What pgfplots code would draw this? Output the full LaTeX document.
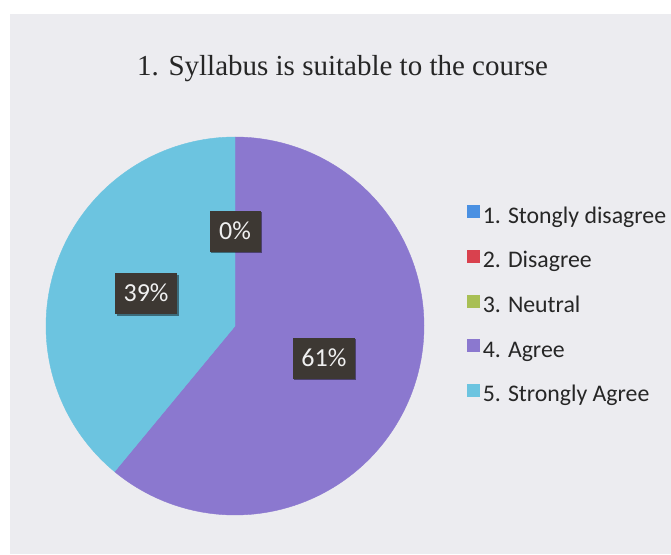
\documentclass[border=0pt]{standalone}
\usepackage{fontspec}
\setmainfont{Liberation Serif}
\newfontfamily\carlito{Carlito}
\usepackage{pgfplots}
\pgfplotsset{compat=1.18}
\usepackage{pgfplotstable}
\usetikzlibrary{shadows}

\definecolor{cBg}{HTML}{ECECF0}
\definecolor{cTitle}{HTML}{262626}
\definecolor{cOne}{HTML}{4A90E2}
\definecolor{cTwo}{HTML}{D9414E}
\definecolor{cThree}{HTML}{A8BF55}
\definecolor{cAgree}{HTML}{8B78CF}
\definecolor{cStrong}{HTML}{6CC4E0}
\definecolor{cLbl}{HTML}{3D3833}

\tikzset{labelbox/.style={fill=cLbl, text=white!94!black,
    font=\carlito\fontsize{26}{26}\selectfont,
    inner xsep=8pt, inner ysep=0pt, text height=16pt, text depth=0pt,
    minimum height=41pt,
    drop shadow={shadow xshift=1.5pt, shadow yshift=-1.5pt, opacity=0.45, fill=black}}}

% answers in percent, in legend order
\pgfplotstableread{
id pct
1 0
2 0
3 0
4 61
5 39
}\answers

\begin{document}
\begin{tikzpicture}
\pgfplotstablegetelem{3}{pct}\of\answers \let\pAgree\pgfplotsretval
\pgfplotstablegetelem{4}{pct}\of\answers \let\pStrong\pgfplotsretval
\pgfmathsetmacro\aEnd{90-3.6*\pAgree}
\pgfmathsetmacro\sEnd{\aEnd-3.6*\pStrong}
\pgfmathsetmacro\aMid{(90+\aEnd)/2}
\pgfmathsetmacro\sMid{(\aEnd+\sEnd)/2}

\fill[white] (0pt,0pt) rectangle (671pt,554pt);
\fill[cBg] (10pt,0pt) rectangle (671pt,540pt);

\node[anchor=base, text=cTitle, font=\fontsize{29}{29}\selectfont]
  at (342.5pt,478pt) {1. Syllabus is suitable to the course};

\begin{axis}[
  at={(235pt,228pt)}, anchor=center,
  scale only axis, width=378pt, height=378pt,
  xmin=-1, xmax=1, ymin=-1, ymax=1,
  hide axis, clip=false,
  legend image code/.code={\fill[#1, draw=none] (-1pt,-1pt) rectangle (12pt,12pt);},
  legend style={at={(1.106,0.8255)}, anchor=north west, draw=none, fill=none,
    font=\carlito\fontsize{23.8}{23.8}\selectfont, text=cTitle,
    nodes={inner sep=0pt, text height=17pt, text depth=5pt},
    row sep=21.7pt, column sep=2.5pt},
  legend cell align=left,
]
\addlegendimage{fill=cOne}
\addlegendentry{1. Stongly disagree}
\addlegendimage{fill=cTwo}
\addlegendentry{2. Disagree}
\addlegendimage{fill=cThree}
\addlegendentry{3. Neutral}
\addlegendimage{fill=cAgree}
\addlegendentry{4. Agree}
\addlegendimage{fill=cStrong}
\addlegendentry{5. Strongly Agree}

\addplot[forget plot, fill=cAgree, draw=cAgree, domain=\aEnd:90, samples=150]
  ({cos(x)},{sin(x)}) -- (axis cs:0,0) -- cycle;
\addplot[forget plot, fill=cStrong, draw=cStrong, domain=\sEnd:\aEnd, samples=120]
  ({cos(x)},{sin(x)}) -- (axis cs:0,0) -- cycle;

\node[labelbox, minimum width=51pt] at (axis cs:{0.5*cos(90)},{0.5*sin(90)}) {0\%};
\node[labelbox, minimum width=62pt] at (axis cs:{0.5*cos(\sMid)},{0.5*sin(\sMid)}) {39\%};
\node[labelbox, minimum width=62pt] at (axis cs:{0.5*cos(\aMid)},{0.5*sin(\aMid)}) {61\%};
\end{axis}

\pgfresetboundingbox
\useasboundingbox (0pt,0pt) rectangle (671pt,554pt);
\end{tikzpicture}
\end{document}
